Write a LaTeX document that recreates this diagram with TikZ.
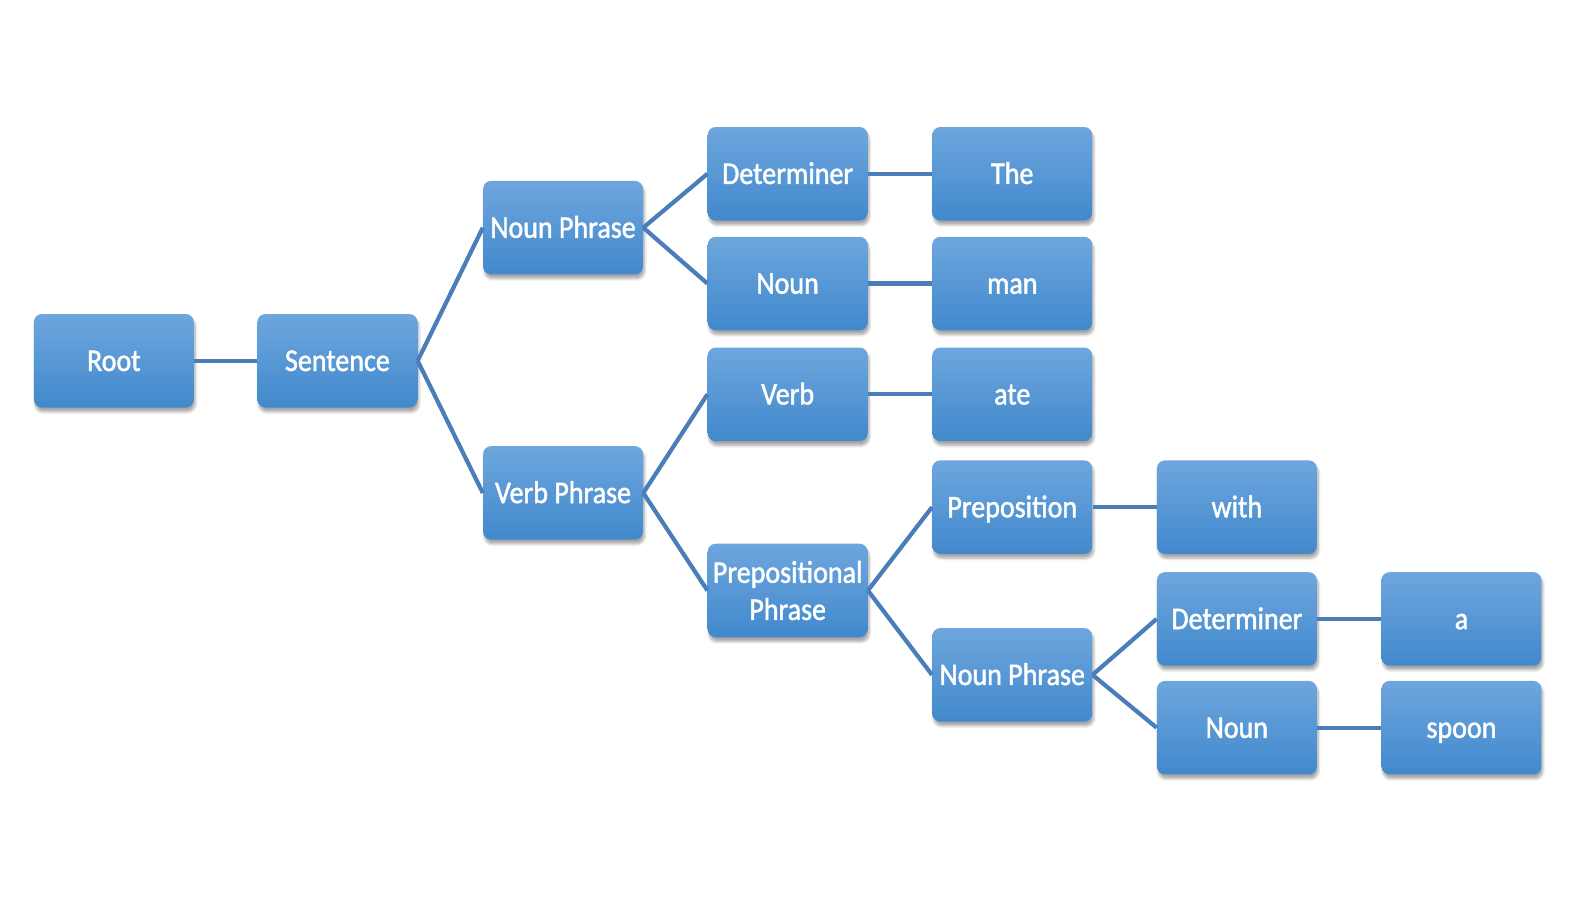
\documentclass[tikz,border=0pt]{standalone}
\usepackage{fontspec}
\setmainfont[FakeStretch=0.89, FakeBold=1.5]{Carlito}
\usepackage{tikz}
\usetikzlibrary{shadows.blur}
\usepackage{xcolor}
\definecolor{boxtop}{HTML}{6EA6DE}
\definecolor{boxbot}{HTML}{4189CC}
\definecolor{linkblue}{HTML}{4A7EBB}

\begin{document}
\begin{tikzpicture}[
x=0.025415cm, y=-0.025415cm,
every node/.style={font=\fontsize{22.4}{26.4}\selectfont, text=white},
box/.style={rounded corners=0.2cm, top color=boxtop, bottom color=boxbot,
  minimum width=4cm, minimum height=2.34cm, align=center, inner sep=1pt,
  text height=18pt, text depth=3.6pt,
  blur shadow={shadow xshift=1pt, shadow yshift=-3pt, shadow opacity=35, shadow blur steps=6}},
link/.style={draw=linkblue, line width=3pt},
]
% nodes
\node[box] (R) at (112,355) {Root};
\node[box] (S) at (332,355) {Sentence};
\node[box] (NP) at (554,224) {Noun Phrase};
\node[box] (VP) at (554,485) {Verb Phrase};
\node[box] (D1) at (775,171) {Determiner};
\node[box] (N1) at (775,279) {Noun};
\node[box] (V) at (775,388) {Verb};
\node[box, text height=, text depth=] (PP) at (775,581) {Prepositional\\Phrase};
\node[box] (the) at (996,171) {The};
\node[box] (man) at (996,279) {man};
\node[box] (ate) at (996,388) {ate};
\node[box] (P) at (996,499) {Preposition};
\node[box] (NP2) at (996,664) {Noun Phrase};
\node[box] (with) at (1217,499) {with};
\node[box] (D2) at (1217,609) {Determiner};
\node[box] (N2) at (1217,716) {Noun};
\node[box] (a) at (1438,609) {a};
\node[box] (spoon) at (1438,716) {spoon};
% links
\draw[link] (R) -- (S);
\draw[link] (S.east) -- (NP.west);
\draw[link] (S.east) -- (VP.west);
\draw[link] (NP.east) -- (D1.west);
\draw[link] (NP.east) -- (N1.west);
\draw[link] (VP.east) -- (V.west);
\draw[link] (VP.east) -- (PP.west);
\draw[link] (D1) -- (the);
\draw[link] (N1) -- (man);
\draw[link] (V) -- (ate);
\draw[link] (PP.east) -- (P.west);
\draw[link] (PP.east) -- (NP2.west);
\draw[link] (P) -- (with);
\draw[link] (NP2.east) -- (D2.west);
\draw[link] (NP2.east) -- (N2.west);
\draw[link] (D2) -- (a);
\draw[link] (N2) -- (spoon);
% page size
\pgfresetboundingbox
\useasboundingbox (0,0) rectangle (1568.4,890.4);
\end{tikzpicture}%
\end{document}
